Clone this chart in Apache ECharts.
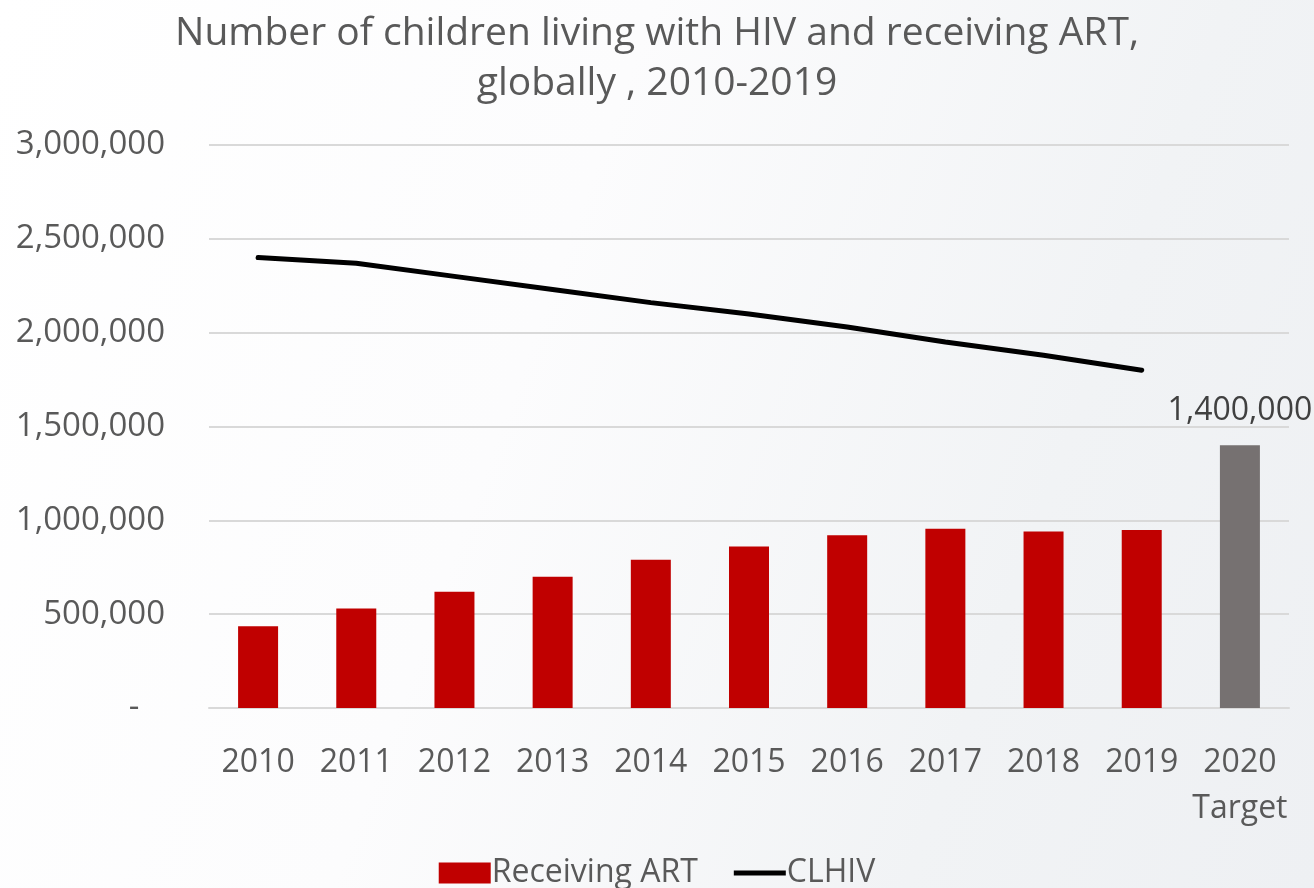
<!DOCTYPE html>
<html>
<head>
<meta charset="utf-8">
<title>Children living with HIV and receiving ART</title>
<script src="https://cdn.jsdelivr.net/npm/echarts@6/dist/echarts.min.js"></script>
<style>
  html, body {
    margin: 0;
    padding: 0;
    width: 1314px;
    height: 888px;
    background: linear-gradient(110deg, #ffffff 0%, #fcfcfd 40%, #f1f3f5 75%, #eef0f3 100%);
  }
  #chart {
    width: 1314px;
    height: 888px;
  }
</style>
</head>
<body>
<div id="chart"></div>
<script>
const years = ['2010', '2011', '2012', '2013', '2014', '2015', '2016', '2017', '2018', '2019', '2020\nTarget']
const receivingArt = [435000, 530000, 620000, 700000, 790000, 860000, 920000, 955000, 940000, 948000, 1400000]
const clhiv = [2400000, 2370000, 2300000, 2230000, 2160000, 2100000, 2030000, 1950000, 1880000, 1800000, null]
const targetIndex = 10

const chart = echarts.init(document.getElementById('chart'))

const fmt = v => v.toLocaleString('en-US')

chart.setOption({
  backgroundColor: 'transparent',
  textStyle: {
    fontFamily: '"Open Sans", sans-serif'
  },
  title: {
    text: 'Number of children living with HIV and receiving ART,\nglobally , 2010-2019',
    left: 'center',
    top: 4,
    textStyle: {
      fontFamily: '"Open Sans", sans-serif',
      fontSize: 39,
      fontWeight: 'normal',
      color: '#595959',
      lineHeight: 50
    }
  },
  legend: {
    bottom: -6,
    left: 'center',
    itemWidth: 52,
    itemHeight: 21,
    itemGap: 36,
    textStyle: {
      fontSize: 32,
      color: '#595959',
      padding: [0, 0, 0, -4]
    },
    data: [
      { name: 'Receiving ART', icon: 'rect' },
      { name: 'CLHIV', icon: 'path://M0,8 L52,8 L52,13 L0,13 Z' }
    ]
  },
  grid: {
    left: 209,
    right: 25,
    top: 145,
    bottom: 180,
    containLabel: false
  },
  xAxis: {
    type: 'category',
    data: years,
    axisTick: { show: false },
    axisLine: {
      lineStyle: { color: '#d9d9d9', width: 2 }
    },
    axisLabel: {
      interval: 0,
      margin: 32,
      fontSize: 32,
      lineHeight: 46,
      color: '#595959'
    }
  },
  yAxis: {
    type: 'value',
    min: 0,
    max: 3000000,
    interval: 500000,
    axisLine: { show: false },
    axisTick: { show: false },
    axisLabel: {
      margin: 44,
      fontSize: 33,
      color: '#595959',
      formatter: v => (v === 0 ? '-   ' : fmt(v))
    },
    splitLine: {
      lineStyle: { color: '#d9d9d9', width: 2 }
    }
  },
  series: [{
    name: 'Receiving ART',
    type: 'bar',
    barWidth: 40,
    itemStyle: { color: '#c00000' },
    data: receivingArt.map((v, i) => i === targetIndex ? {
      value: v,
      itemStyle: { color: '#767171' },
      label: {
        show: true,
        position: 'top',
        distance: 18,
        fontSize: 32,
        color: '#404040',
        formatter: p => fmt(p.value)
      }
    } : v)
  }, {
    name: 'CLHIV',
    type: 'line',
    symbol: 'none',
    smooth: false,
    lineStyle: { color: '#000000', width: 5, cap: 'round' },
    itemStyle: { color: '#000000' },
    data: clhiv
  }]
})
</script>
</body>
</html>
